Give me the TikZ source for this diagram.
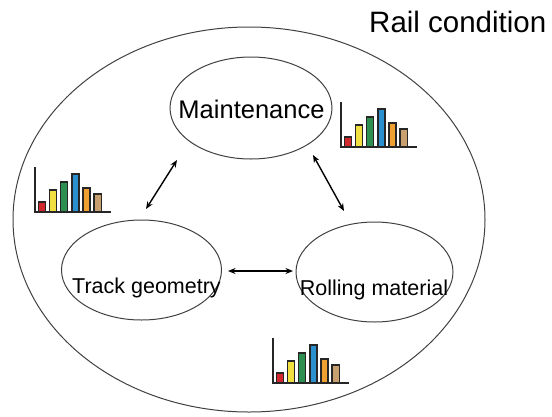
\documentclass[tikz,border=0pt]{standalone}
\usepackage{fontspec}
\setmainfont{Liberation Sans}
\usetikzlibrary{shapes.geometric,arrows.meta}
\definecolor{cR}{HTML}{D0282C}
\definecolor{cY}{HTML}{F2E040}
\definecolor{cG}{HTML}{2E9050}
\definecolor{cB}{HTML}{2A90D0}
\definecolor{cO}{HTML}{F0A030}
\definecolor{cT}{HTML}{C8A070}
\begin{document}
\begin{tikzpicture}[x=1pt,y=-1pt,
  oval/.style={ellipse,draw=black!75,line width=1pt,inner sep=0pt},
  lbl/.style={inner sep=0pt,font=\fontsize{21.5}{24}\selectfont},
  link/.style={{Stealth[length=7.5pt,width=6pt]}-{Stealth[length=7.5pt,width=6pt]},line width=1.4pt},
  bar/.style={draw=black!85,line width=1.1pt},
  axisline/.style={line width=1.7pt,draw=black!85},
  bars/.pic={
    \draw[bar,fill=cR] (3.5,0) rectangle (10.5,-10);
    \draw[bar,fill=cY] (14.5,0) rectangle (21.5,-22);
    \draw[bar,fill=cG] (25.5,0) rectangle (32.5,-30);
    \draw[bar,fill=cB] (37,0) rectangle (44,-38);
    \draw[bar,fill=cO] (48,0) rectangle (55,-24);
    \draw[bar,fill=cT] (59,0) rectangle (66.5,-18);
    \draw[axisline] (0,-45) -- (0,0) -- (76,0);
  }]
\useasboundingbox (0,0) rectangle (552,416);
% outer ellipse
\node[oval,minimum width=472pt,minimum height=385pt] (outer) at (249,219.5) {};
\node[anchor=base west,inner sep=0pt,font=\fontsize{29.5}{33}\selectfont] (title) at (369,32) {Rail condition};
% inner ellipses
\node[oval,minimum width=162pt,minimum height=102pt] (m) at (251,108) {};
\node[oval,minimum width=160pt,minimum height=100pt] (t) at (141.5,270) {};
\node[oval,minimum width=157pt,minimum height=100pt] (r) at (374.5,272) {};
\node[lbl,anchor=base,font=\fontsize{25.5}{28}\selectfont] (ml) at (251.5,118) {Maintenance};
\node[lbl,anchor=base] (tl) at (146.5,293) {Track geometry};
\node[lbl,anchor=base] (rl) at (374,295) {Rolling material};
% connectors
\coordinate (mt1) at (177,160);
\coordinate (mt2) at (146,209);
\coordinate (mr1) at (313,155);
\coordinate (mr2) at (344,211);
\coordinate (tr1) at (228,271);
\coordinate (tr2) at (293,271);
\draw[link] (mt1) -- (mt2);
\draw[link] (mr1) -- (mr2);
\draw[link] (tr1) -- (tr2);
% bar charts
\pic (c1) at (341,147) {bars};
\pic (c2) at (35,212) {bars};
\pic (c3) at (273,383) {bars};
\end{tikzpicture}
\end{document}
